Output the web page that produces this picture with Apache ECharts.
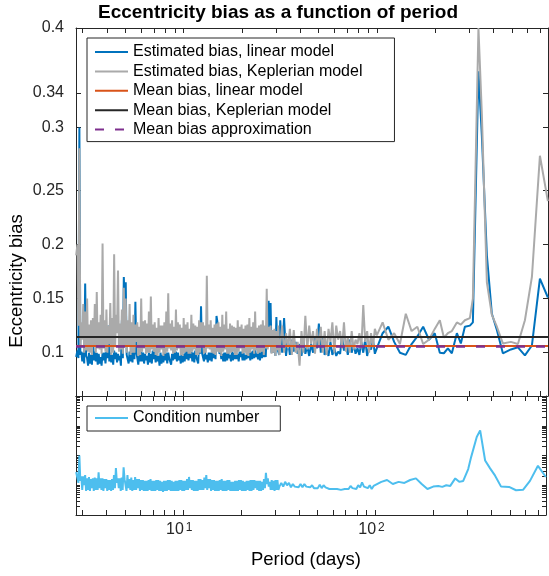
<!DOCTYPE html>
<html><head><meta charset="utf-8">
<script src="https://cdn.jsdelivr.net/npm/echarts@6/dist/echarts.min.js"></script>
<style>html,body{margin:0;padding:0;background:#fff}#c{width:549px;height:576px}</style>
</head><body><div id="c"></div>
<script>
// Period (days)
const periods = [2.775,
2.818,2.851,2.884,2.917,2.951,2.985,3.020,3.055,3.090,3.126,
3.162,3.199,3.236,3.273,3.311,3.350,3.388,3.427,3.467,3.508,
3.548,3.589,3.631,3.673,3.715,3.758,3.802,3.846,3.890,3.936,
3.981,4.027,4.074,4.121,4.169,4.217,4.266,4.315,4.365,4.416,
4.467,4.519,4.571,4.624,4.677,4.732,4.786,4.842,4.898,4.955,
5.012,5.070,5.129,5.188,5.248,5.309,5.370,5.433,5.495,5.559,
5.623,5.689,5.754,5.821,5.888,5.957,6.026,6.095,6.166,6.237,
6.310,6.383,6.457,6.531,6.607,6.683,6.761,6.839,6.918,6.998,
7.079,7.161,7.244,7.328,7.413,7.499,7.586,7.674,7.762,7.852,
7.943,8.035,8.128,8.222,8.318,8.414,8.511,8.610,8.710,8.810,
8.913,9.016,9.120,9.226,9.333,9.441,9.550,9.661,9.772,9.886,
10.00,10.12,10.23,10.35,10.47,10.59,10.72,10.84,10.96,11.09,
11.22,11.35,11.48,11.61,11.75,11.89,12.02,12.16,12.30,12.44,
12.59,12.74,12.88,13.03,13.18,13.33,13.49,13.65,13.80,13.96,
14.13,14.29,14.45,14.62,14.79,14.96,15.14,15.31,15.49,15.67,
15.85,16.03,16.22,16.41,16.60,16.79,16.98,17.18,17.38,17.58,
17.78,17.99,18.20,18.41,18.62,18.84,19.05,19.27,19.50,19.72,
19.95,20.18,20.42,20.66,20.89,21.13,21.38,21.63,21.88,22.13,
22.39,22.65,22.91,23.18,23.44,23.71,23.99,24.27,24.55,24.83,
25.12,25.41,25.70,26.00,26.30,26.60,26.92,27.23,27.54,27.86,
28.18,28.51,28.84,29.17,29.51,29.85,30.20,30.55,30.90,31.26,
31.62,
32.36,33.11,33.88,34.67,35.48,36.31,37.15,38.02,38.90,39.81,
40.74,41.69,42.66,43.65,44.67,45.71,46.77,47.86,48.98,50.12,
51.29,52.48,53.70,54.95,56.23,57.54,58.88,60.26,61.66,63.10,
64.57,66.07,67.61,69.18,70.79,72.44,74.13,75.86,77.62,79.43,
81.28,83.18,85.11,87.10,89.13,91.20,93.33,95.50,97.72,100.0,
107.2,114.8,123.0,131.8,141.3,151.4,162.2,173.8,186.2,199.5,
212.0,222.5,233.3,244.7,259.8,272.4,285.8,303.4,314.4,336.0,
350.0,371.5,394.3,418.6,449.6,494.7,537.9,584.7,635.6,699.2,769.0];

// Estimated bias, linear model
const biasLinear = [0.096,
0.102,0.095,0.308,0.098,0.101,0.092,0.100,0.090,0.164,0.097,
0.095,0.088,0.100,0.090,0.098,0.089,0.120,0.093,0.101,0.092,
0.100,0.089,0.099,0.090,0.096,0.088,0.100,0.093,0.100,0.090,
0.101,0.095,0.125,0.092,0.100,0.091,0.098,0.089,0.102,0.094,
0.100,0.091,0.099,0.093,0.097,0.088,0.130,0.095,0.170,0.145,
0.165,0.098,0.098,0.090,0.101,0.092,0.100,0.091,0.120,0.094,
0.147,0.100,0.095,0.089,0.098,0.092,0.101,0.092,0.100,0.090,
0.099,0.093,0.097,0.089,0.100,0.091,0.099,0.090,0.102,0.094,
0.101,0.091,0.099,0.092,0.097,0.088,0.100,0.090,0.098,0.091,
0.101,0.093,0.100,0.090,0.100,0.095,0.092,0.089,0.099,0.093,
0.101,0.094,0.101,0.092,0.100,0.093,0.097,0.090,0.101,0.091,
0.099,0.092,0.102,0.094,0.102,0.093,0.100,0.095,0.101,0.092,
0.100,0.091,0.102,0.096,0.093,0.090,0.110,0.099,0.143,0.100,
0.100,0.092,0.101,0.094,0.098,0.091,0.100,0.093,0.100,0.092,
0.102,0.095,0.101,0.094,0.134,0.128,0.120,0.099,0.101,0.094,
0.099,0.092,0.100,0.092,0.100,0.093,0.102,0.095,0.098,0.092,
0.101,0.093,0.100,0.094,0.103,0.094,0.099,0.092,0.101,0.096,
0.101,0.093,0.100,0.093,0.098,0.094,0.103,0.095,0.100,0.093,
0.101,0.094,0.102,0.095,0.104,0.096,0.099,0.094,0.102,0.093,
0.101,0.095,0.104,0.096,0.100,0.096,0.120,0.105,0.148,0.112,
0.146,0.100,0.108,0.100,0.118,0.097,0.133,0.104,0.105,0.098,
0.130,
0.100,0.132,0.097,0.112,0.098,0.112,0.101,0.110,0.099,0.108,
0.097,0.112,0.099,0.106,0.097,0.108,0.100,0.115,0.104,0.127,
0.100,0.115,0.098,0.104,0.097,0.110,0.098,0.104,0.097,0.101,
0.099,0.115,0.102,0.108,0.098,0.112,0.100,0.108,0.099,0.104,
0.098,0.110,0.100,0.112,0.097,0.106,0.103,0.112,0.099,0.104,
0.118,0.124,0.110,0.100,0.098,0.108,0.115,0.124,0.112,0.118,
0.100,0.0995,0.104,0.0995,0.118,0.1086,0.124,0.125,0.128,0.360,
0.300,0.190,0.136,0.121,0.0994,0.103,0.105,0.0975,0.1067,0.1684,0.151];

// Estimated bias, Keplerian model
const biasKepler = [0.190,
0.200,0.125,0.289,0.105,0.128,0.112,0.145,0.100,0.138,0.102,
0.150,0.101,0.126,0.100,0.130,0.098,0.132,0.106,0.145,0.100,
0.156,0.104,0.128,0.103,0.135,0.099,0.201,0.104,0.130,0.101,
0.140,0.100,0.125,0.108,0.146,0.098,0.132,0.100,0.191,0.105,
0.135,0.118,0.176,0.101,0.127,0.103,0.140,0.099,0.160,0.106,
0.150,0.100,0.130,0.106,0.145,0.098,0.128,0.100,0.135,0.100,
0.126,0.110,0.128,0.097,0.124,0.098,0.150,0.101,0.129,0.104,
0.130,0.099,0.127,0.100,0.138,0.100,0.152,0.103,0.126,0.101,
0.128,0.098,0.123,0.097,0.132,0.100,0.125,0.103,0.125,0.097,
0.128,0.099,0.138,0.101,0.155,0.104,0.127,0.102,0.130,0.099,
0.124,0.100,0.140,0.102,0.128,0.104,0.126,0.098,0.123,0.097,
0.132,0.100,0.126,0.101,0.128,0.099,0.122,0.099,0.135,0.101,
0.127,0.103,0.125,0.098,0.124,0.098,0.130,0.100,0.128,0.105,
0.128,0.099,0.125,0.100,0.171,0.104,0.126,0.103,0.130,0.100,
0.123,0.099,0.126,0.098,0.127,0.101,0.128,0.100,0.124,0.097,
0.135,0.101,0.126,0.103,0.138,0.099,0.122,0.099,0.127,0.100,
0.125,0.101,0.124,0.098,0.123,0.098,0.130,0.101,0.124,0.104,
0.126,0.099,0.122,0.100,0.125,0.098,0.126,0.097,0.132,0.100,
0.124,0.103,0.128,0.099,0.138,0.102,0.123,0.099,0.125,0.100,
0.126,0.101,0.130,0.098,0.125,0.104,0.159,0.103,0.124,0.106,
0.125,0.099,0.121,0.100,0.122,0.097,0.120,0.102,0.125,0.098,
0.099,
0.125,0.100,0.118,0.104,0.122,0.098,0.121,0.100,0.110,0.088,
0.120,0.100,0.134,0.103,0.125,0.108,0.120,0.099,0.122,0.105,
0.124,0.100,0.120,0.098,0.122,0.110,0.128,0.100,0.125,0.112,
0.120,0.104,0.128,0.101,0.115,0.100,0.120,0.103,0.112,0.108,
0.118,0.104,0.144,0.110,0.120,0.100,0.118,0.105,0.122,0.116,
0.128,0.112,0.118,0.108,0.136,0.120,0.124,0.108,0.112,0.122,
0.130,0.114,0.118,0.120,0.128,0.126,0.130,0.132,0.150,0.400,
0.320,0.165,0.135,0.124,0.1086,0.110,0.108,0.130,0.170,0.282,0.240];

// Condition number
const condNumber = [28,
30,12,100,14,20,7,20,10,22,6.5,
17,7,19,6.5,16,8,17,6.5,18,7,
17,7,27,8,17,7,17,6.5,16,8,
16,6.5,15,7,15,6.5,16,7,22,8,
38,12,17,8,17,6.5,18,7,40,16,
14,6.5,22,8,16,7,18,6.5,15,7,
19,7,16,8,16,6.5,15,7,15,6.5,
14,6.5,14,6.5,15,7,16,6.5,14,6.5,
14,6.5,15,7,15,6.5,14,6.5,13,6,
14,6.5,14,6.5,15,7,15,6.5,14,6.5,
13,6.5,14,6.5,14,6.5,15,7,15,6.5,
14,6.5,14,7,16,7,19,8,15,7,
15,6.5,14,6.5,14,6.5,16,7,16,7,
15,7,18,8,22,7,16,8,16,6.5,
15,7,15,6.5,14,6.5,14,6.5,15,7,
16,6.5,14,6.5,14,6.5,15,7,15,6.5,
13,6.5,13,6.5,14,6.5,14,6.5,15,7,
15,6.5,14,6.5,13,6.5,14,7,14,6.5,
15,6.5,15,7,15,8,14,7,14,6.5,
14,6.5,13,7,16,8,26,11,17,9,
13,7,15,7,14,6.5,15,7,15,7,
9,
12,9,13,10,12,8.5,11,9,10.5,8.5,
11,8.5,11,9,10.5,8.5,10,8,9,8,
10.5,8,10,8.5,9.5,7.5,8.5,7.5,8.5,7.5,
8.5,7,8,7.5,8.5,7.5,9.5,8,9,7.5,
10,8.5,12.5,9,10.5,8,10,7.5,9.5,9,
13,15,11,13,12,15,17,11,7.5,9,
9.5,8.8,10,9.5,17,13,14,35,90,420,
700,68,37,21,9,8.8,6.8,7,14,45,19];

const meanBiasLinear = 0.1061;
const meanBiasKepler = 0.1144;
const meanBiasApprox = 0.1058;

const periodRange = [2.77, 770];
const biasRange = [0.06, 0.4];
const condRange = [1, 10000];

const biasTickValues = [0.1, 0.15, 0.2, 0.25, 0.308, 0.34, 0.4];
const biasTickLabels = ['0.1', '0.15', '0.2', '0.25', '0.3', '0.34', '0.4'];
const periodTickValues = [3,4,5,6,7,8,9,10,20,30,40,50,60,70,80,90,100,200,300,400,500,600,700];
const periodLabelValues = [10, 100];
const periodLabelExponents = ['1', '2'];
const condTickValues = [2,3,4,5,6,7,8,9,10,20,30,40,50,60,70,80,90,100,200,300,400,500,600,700,800,900,1000,2000,3000,4000,5000,6000,7000,8000,9000];

const FONT = "'Liberation Sans', Arial, Helvetica, sans-serif";
const AX = '#262626';

const pair = (ys) => periods.map((p, i) => [p, ys[i]]);
const flat = (v) => [[periodRange[0], v], [periodRange[1], v]];

function xAx(grid, pos, labels) {
  return {
    type: 'log', gridIndex: grid, position: pos, logBase: 10,
    min: periodRange[0], max: periodRange[1],
    axisLine: { show: true, onZero: false, lineStyle: { color: AX, width: 1 } },
    axisTick: { show: true, inside: true, length: 5, customValues: periodTickValues, lineStyle: { color: AX } },
    splitLine: { show: false },
    axisLabel: labels ? {
      show: true, interval: 0, margin: 7, fontFamily: FONT, color: AX,
      formatter: (v) => {
        const i = periodLabelValues.findIndex(t => Math.abs(t - v) / t < 1e-6);
        return i < 0 ? '' : '{b|10}{e|' + periodLabelExponents[i] + '}';
      },
      rich: {
        b: { fontSize: 16, lineHeight: 16, fontFamily: FONT, color: AX, verticalAlign: 'bottom' },
        e: { fontSize: 12, lineHeight: 12, fontFamily: FONT, color: AX, verticalAlign: 'top', padding: [0, 8, 12, 2] }
      }
    } : { show: false }
  };
}
function yBias(pos, labels) {
  return {
    type: 'value', gridIndex: 0, position: pos, min: biasRange[0], max: biasRange[1],
    axisLine: { show: true, onZero: false, lineStyle: { color: AX, width: 1 } },
    axisTick: { show: true, inside: true, length: 5, customValues: biasTickValues, lineStyle: { color: AX } },
    splitLine: { show: false },
    axisLabel: labels ? {
      show: true, customValues: biasTickValues, margin: 12, fontSize: 16, fontFamily: FONT, color: AX,
      formatter: (v) => {
        const i = biasTickValues.findIndex(t => Math.abs(t - v) < 1e-6);
        return i < 0 ? '' : biasTickLabels[i];
      }
    } : { show: false }
  };
}
function yCond(pos) {
  return {
    type: 'log', gridIndex: 1, position: pos, logBase: 10, min: condRange[0], max: condRange[1],
    axisLine: { show: true, onZero: false, lineStyle: { color: AX, width: 1 } },
    axisTick: { show: true, inside: true, length: 4, customValues: condTickValues, lineStyle: { color: AX } },
    splitLine: { show: false },
    axisLabel: { show: false }
  };
}
const lineSeries = (name, x, y, data, color, width, extra) => Object.assign({
  name, type: 'line', xAxisIndex: x, yAxisIndex: y, data,
  symbol: 'none', showSymbol: false, animation: false, silent: true,
  lineStyle: { color, width }, itemStyle: { color }
}, extra || {});

const legendCommon = {
  orient: 'vertical', itemWidth: 33, itemHeight: 14,
  backgroundColor: '#fff', borderColor: AX, borderWidth: 1, selectedMode: false,
  itemStyle: { opacity: 0 },
  textStyle: { fontSize: 16, lineHeight: 16, color: '#000', fontFamily: FONT }
};

const chart = echarts.init(document.getElementById('c'), null, { renderer: 'canvas' });
chart.setOption({
  backgroundColor: '#fff',
  animation: false,
  title: {
    text: 'Eccentricity bias as a function of period',
    left: 98, top: 3, padding: 0,
    textStyle: { fontSize: 19, fontWeight: 'bold', color: '#000', fontFamily: FONT }
  },
  grid: [
    { left: 76, top: 28, width: 472, height: 368, containLabel: false },
    { left: 76, top: 396, width: 472, height: 119, containLabel: false }
  ],
  xAxis: [xAx(0, 'bottom', false), xAx(0, 'top', false), xAx(1, 'bottom', true), xAx(1, 'top', false)],
  yAxis: [yBias('left', true), yBias('right', false), yCond('left'), yCond('right')],
  legend: [
    Object.assign({}, legendCommon, {
      left: 87, top: 38, padding: [6, 32, 4, 7], itemGap: 3.4,
      data: ['Estimated bias, linear model', 'Estimated bias, Keplerian model', 'Mean bias, linear model', 'Mean bias, Keplerian model', 'Mean bias approximation']
    }),
    Object.assign({}, legendCommon, {
      left: 87, top: 406, padding: [4, 21, 5, 7],
      data: ['Condition number']
    })
  ],
  graphic: [
    { type: 'text', x: 17, y: 281, rotation: Math.PI / 2,
      style: { text: 'Eccentricity bias', fontSize: 18.5, fontFamily: FONT, fill: '#000', textAlign: 'center', textVerticalAlign: 'middle' } },
    { type: 'text', x: 306, y: 560,
      style: { text: 'Period (days)', fontSize: 18.5, fontFamily: FONT, fill: '#000', textAlign: 'center', textVerticalAlign: 'middle' } }
  ],
  series: [
    lineSeries('Estimated bias, linear model', 0, 0, pair(biasLinear), '#0072BD', 2),
    lineSeries('Estimated bias, Keplerian model', 0, 0, pair(biasKepler), '#AAAAAA', 2),
    lineSeries('Mean bias, linear model', 0, 0, flat(meanBiasLinear), '#D95319', 2),
    lineSeries('Mean bias, Keplerian model', 0, 0, flat(meanBiasKepler), '#262626', 2),
    lineSeries('Mean bias approximation', 0, 0, flat(meanBiasApprox), '#7E2F8E', 2.5, { lineStyle: { color: '#7E2F8E', width: 2.5, type: [9, 11] } }),
    lineSeries('Condition number', 2, 2, pair(condNumber), '#4DBEEE', 2)
  ]
});
</script></body></html>
